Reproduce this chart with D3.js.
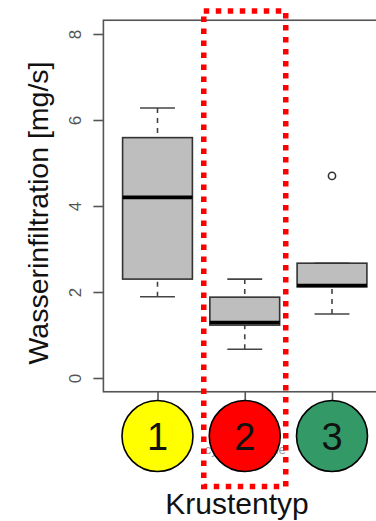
<!DOCTYPE html>
<html>
<head>
<meta charset="utf-8">
<script src="https://cdn.jsdelivr.net/npm/d3@7"></script>
<style>
  html, body { margin: 0; padding: 0; background: #fff; }
  svg { display: block; }
  text { font-family: "Liberation Sans", Arial, sans-serif; }
</style>
</head>
<body>
<svg id="chart" width="376" height="521"></svg>
<script>
// Crust types and their box statistics (mg/s)
const crustTypes = [1, 2, 3];
const typeNames = ["", "cyanobakterie", ""];
const whiskerLow = [1.89, 0.67, 1.49];
const q1 = [2.30, 1.23, 2.12];
const median = [4.20, 1.29, 2.15];
const q3 = [5.59, 1.88, 2.67];
const whiskerHigh = [6.28, 2.30, 2.67];
const outliers = [[], [], [4.70]];
const yTicks = [0, 2, 4, 6, 8];
const badgeColors = ["#ffff00", "#ff0000", "#339966"];
const highlighted = 2;

const svg = d3.select("#chart");

// R-style ranges: data limits plus 4 % padding on each side
const x = d3.scaleLinear().domain([1, 3]).range([157.5, 332]);
const y = d3.scaleLinear().domain([0, 8]).range([378, 34]);
const xLo = 0.5 - 0.12, xHi = 3.5 + 0.12;
const yLo = -0.32, yHi = 8.32;
const boxW = x(1.8) - x(1);      // box width 0.8 units
const capW = boxW / 2;

// plot frame
svg.append("rect")
  .attr("x", x(xLo)).attr("y", y(yHi))
  .attr("width", x(xHi) - x(xLo)).attr("height", y(yLo) - y(yHi))
  .attr("fill", "none").attr("stroke", "#555").attr("stroke-width", 1.6);

// boxes
const g = svg.append("g");
crustTypes.forEach((t, i) => {
  const cx = x(t);
  // whiskers
  [[q3[i], whiskerHigh[i]], [q1[i], whiskerLow[i]]].forEach(([a, b]) => {
    if (a === b) return;
    g.append("line")
      .attr("x1", cx).attr("x2", cx).attr("y1", y(b)).attr("y2", y(a))
      .attr("stroke", "#444").attr("stroke-width", 1.6)
      .attr("stroke-dasharray", "5 5");
  });
  [whiskerHigh[i], whiskerLow[i]].forEach(v => {
    g.append("line")
      .attr("x1", cx - capW / 2).attr("x2", cx + capW / 2)
      .attr("y1", y(v)).attr("y2", y(v))
      .attr("stroke", "#444").attr("stroke-width", 1.6);
  });
  g.append("rect")
    .attr("x", cx - boxW / 2).attr("y", y(q3[i]))
    .attr("width", boxW).attr("height", y(q1[i]) - y(q3[i]))
    .attr("fill", "#bebebe").attr("stroke", "#333").attr("stroke-width", 1.6);
  g.append("line")
    .attr("x1", cx - boxW / 2).attr("x2", cx + boxW / 2)
    .attr("y1", y(median[i])).attr("y2", y(median[i]))
    .attr("stroke", "#000").attr("stroke-width", 3.6);
  outliers[i].forEach(v => {
    g.append("circle")
      .attr("cx", cx).attr("cy", y(v)).attr("r", 3.6)
      .attr("fill", "none").attr("stroke", "#333").attr("stroke-width", 1.6);
  });
});

// y axis
const yAxis = svg.append("g")
  .attr("transform", `translate(${x(xLo)},0)`)
  .call(d3.axisLeft(y).tickValues(yTicks).tickSize(10).tickPadding(0).tickFormat(d3.format("d")));
yAxis.select(".domain").remove();
yAxis.selectAll(".tick line").attr("stroke", "#555").attr("stroke-width", 1.6);
yAxis.selectAll(".tick text")
  .attr("x", null).attr("dy", null)
  .attr("transform", "translate(-22,0) rotate(-90)")
  .attr("text-anchor", "middle")
  .attr("font-size", 17).attr("fill", "#555");

// x axis
const xAxis = svg.append("g")
  .attr("transform", `translate(0,${y(yLo)})`)
  .call(d3.axisBottom(x).tickValues(crustTypes).tickSize(9).tickFormat((d, i) => typeNames[i]));
xAxis.select(".domain").remove();
xAxis.selectAll(".tick line").attr("stroke", "#555").attr("stroke-width", 1.6);
xAxis.selectAll(".tick text")
  .attr("y", 62).attr("dy", null)
  .attr("font-size", 13).attr("fill", "#9a9a9a");

// axis titles
svg.append("text")
  .attr("transform", `translate(48,${(y(0) + y(8)) / 2 + 7}) rotate(-90)`)
  .attr("text-anchor", "middle")
  .attr("font-size", 28.5).attr("fill", "#111")
  .text("Wasserinfiltration [mg/s]");
svg.append("text")
  .attr("x", 237).attr("y", 514)
  .attr("text-anchor", "middle")
  .attr("font-size", 30).attr("fill", "#111")
  .text("Krustentyp");

// dotted highlight around type 2
const hx = x(highlighted);
svg.append("rect")
  .attr("x", hx - 41).attr("y", 11)
  .attr("width", 82).attr("height", 475.5)
  .attr("fill", "none").attr("stroke", "#ff0000")
  .attr("stroke-width", 5.5).attr("stroke-dasharray", "5.5 6.5");

// numbered type badges
const badges = svg.append("g").selectAll("g").data(crustTypes).join("g")
  .attr("transform", d => `translate(${x(d)},436)`);
badges.append("circle")
  .attr("r", 35.5)
  .attr("fill", (d, i) => badgeColors[i])
  .attr("stroke", "#000").attr("stroke-width", 1.6);
badges.append("text")
  .attr("y", 14).attr("text-anchor", "middle")
  .attr("font-size", 38).attr("fill", "#111")
  .text(d => d);
</script>
</body>
</html>
